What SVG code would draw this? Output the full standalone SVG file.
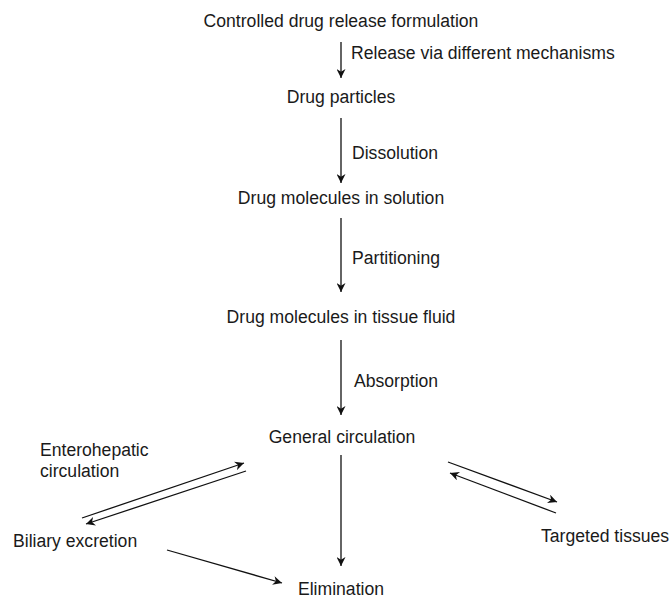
<svg xmlns="http://www.w3.org/2000/svg" width="672" height="600" viewBox="0 0 672 600">
<style>
text{font-family:"Liberation Sans",Arial,sans-serif;font-size:17.6px;fill:#1a1a1a}
.c{text-anchor:middle}
.l{stroke:#111;stroke-width:1.3;fill:none;marker-end:url(#ah)}
</style>
<defs>
<marker id="ah" viewBox="0 0 10 10" refX="10" refY="5" markerWidth="9" markerHeight="9" markerUnits="userSpaceOnUse" orient="auto">
<path d="M0,0 L10,5 L0,10 L3,5 Z" fill="#111"/>
</marker>
</defs>
<rect width="672" height="600" fill="#fff"/>
<g id="n1"><text class="c" x="341" y="27">Controlled drug release formulation</text></g>
<g id="n2"><text class="c" x="341" y="103">Drug particles</text></g>
<g id="n3"><text class="c" x="341" y="204">Drug molecules in solution</text></g>
<g id="n4"><text class="c" x="341" y="323">Drug molecules in tissue fluid</text></g>
<g id="n5"><text class="c" x="342" y="443">General circulation</text></g>
<g id="n6"><text class="c" x="341" y="595">Elimination</text></g>
<g id="n7"><text x="13" y="547">Biliary excretion</text></g>
<g id="n8"><text x="541" y="542">Targeted tissues</text></g>
<g id="connectors">
<line class="l" x1="341" y1="42" x2="341" y2="78"/>
<line class="l" x1="341" y1="118" x2="341" y2="183"/>
<line class="l" x1="341" y1="218" x2="341" y2="292"/>
<line class="l" x1="341" y1="340" x2="341" y2="415"/>
<line class="l" x1="341" y1="455" x2="341" y2="566"/>
<line class="l" x1="82" y1="518" x2="244" y2="463"/>
<line class="l" x1="246" y1="471" x2="86" y2="524"/>
<line class="l" x1="167" y1="550" x2="282" y2="583"/>
<line class="l" x1="448" y1="462" x2="557" y2="502"/>
<line class="l" x1="556" y1="513" x2="450" y2="473"/>
<text x="351" y="59">Release via different mechanisms</text>
<text x="352" y="159">Dissolution</text>
<text x="352" y="264">Partitioning</text>
<text x="354" y="387">Absorption</text>
<text x="40" y="456">Enterohepatic</text>
<text x="40" y="477">circulation</text>
</g>
</svg>
